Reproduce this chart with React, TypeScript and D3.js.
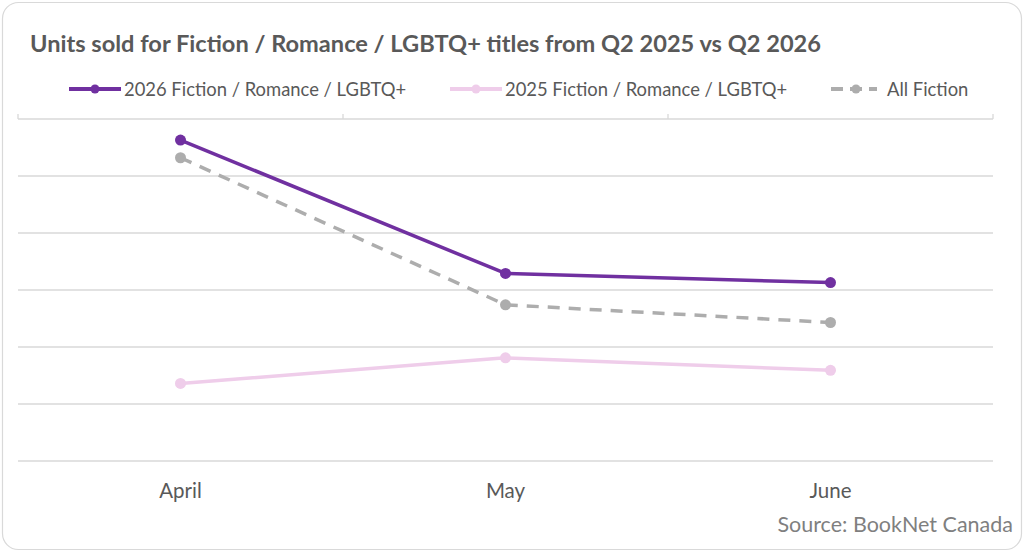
import React from "react";
import * as d3 from "d3";

const months = ["April", "May", "June"];
const fiction2026 = [56.3, 32.9, 31.3];
const fiction2025 = [13.6, 18.1, 15.9];
const allFiction = [53.2, 27.4, 24.3];
const gridValues = [0, 10, 20, 30, 40, 50, 60];

const seriesList = [
  { name: "2026 Fiction / Romance / LGBTQ+", values: fiction2026, color: "#7030a0", dash: "" },
  { name: "2025 Fiction / Romance / LGBTQ+", values: fiction2025, color: "#efcdea", dash: "" },
  { name: "All Fiction", values: allFiction, color: "#adadad", dash: "12 9" },
];

const W = 1024;
const H = 552;
const FONT = "Lato, 'Open Sans', sans-serif";

export default function App() {
  const x = d3.scaleBand<string>().domain(months).range([18, 993]).padding(0);
  const y = d3.scaleLinear().domain([0, 60]).range([461, 119]);
  const cx = (m: string) => x(m)! + x.bandwidth() / 2;

  const line = d3
    .line<number>()
    .x((_, i) => cx(months[i]))
    .y((d) => y(d));

  const legendX = [69, 450, 831];

  return (
    <>
      <style>{`body{margin:0}`}</style>
      <svg width={W} height={H} style={{ display: "block", fontFamily: FONT }}>
        <rect x={2.5} y={2.5} width={W - 5} height={H - 5} rx={16} fill="#fff" stroke="#d9d9d9" strokeWidth={1.2} />

        <text x={30} y={52} fontSize={23.6} fontWeight="bold" fill="#595959">
          Units sold for Fiction / Romance / LGBTQ+ titles from Q2 2025 vs Q2 2026
        </text>

        {/* legend */}
        {seriesList.map((s, i) => (
          <g key={s.name} transform={`translate(${legendX[i]},89)`}>
            <line x1={0} x2={i === 2 ? 46 : 52} y1={0} y2={0} stroke={s.color} strokeWidth={4}
              strokeDasharray={i === 2 ? "12 7" : ""} />
            <circle cx={i === 2 ? 25 : 26} cy={0} r={4.5} fill={s.color} />
            <text x={i === 2 ? 56 : 55} y={6.5} fontSize={18.4} fill="#595959">{s.name}</text>
          </g>
        ))}

        {/* gridlines */}
        {gridValues.map((v) => (
          <line key={v} x1={18} x2={993} y1={y(v)} y2={y(v)} stroke="#d9d9d9" strokeWidth={1.3} />
        ))}
        {/* category tick marks on top line */}
        {[...months.map((m) => x(m)!), 993].map((t, i) => (
          <line key={i} x1={t} x2={t} y1={y(60) - 5} y2={y(60)} stroke="#d9d9d9" strokeWidth={1.3} />
        ))}

        {/* series */}
        {[1, 2, 0].map((k) => {
          const s = seriesList[k];
          return (
            <g key={s.name}>
              <path d={line(s.values)!} fill="none" stroke={s.color} strokeWidth={3.5}
                strokeDasharray={s.dash} strokeLinejoin="round" />
              {s.values.map((v, i) => (
                <circle key={i} cx={cx(months[i])} cy={y(v)} r={5.5} fill={s.color} />
              ))}
            </g>
          );
        })}

        {/* x labels */}
        {months.map((m) => (
          <text key={m} x={cx(m)} y={498} textAnchor="middle" fontSize={20.5} fill="#595959">{m}</text>
        ))}

        <text x={1013} y={532} textAnchor="end" fontSize={21.5} fill="#7f7f7f">Source: BookNet Canada</text>
      </svg>
    </>
  );
}
